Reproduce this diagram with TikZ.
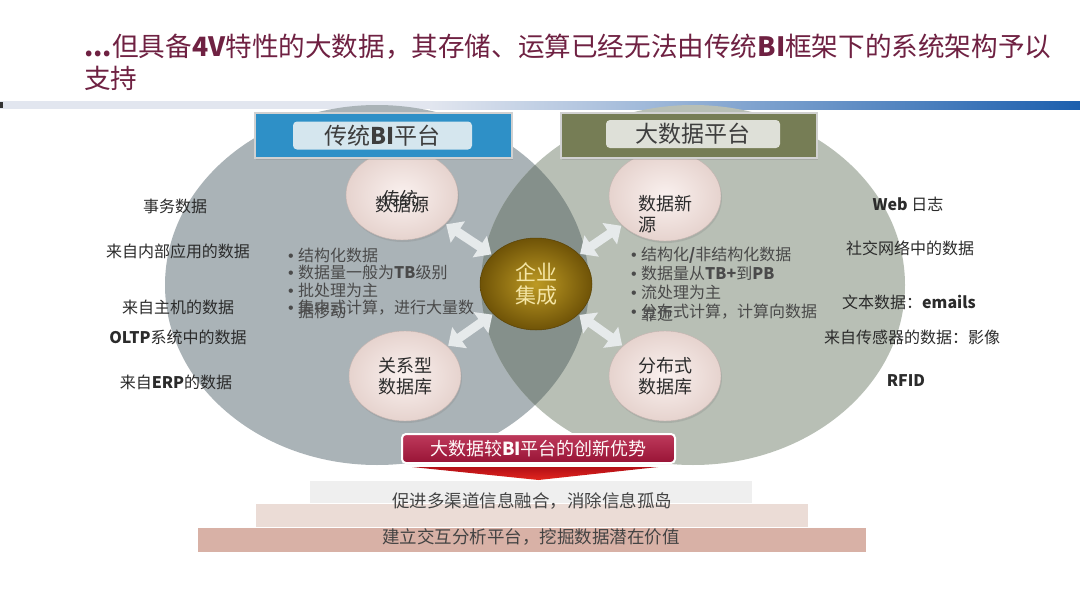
\documentclass[tikz,border=0pt]{standalone}
\usepackage{fontspec}
\setmainfont{Noto Sans CJK SC}
\newfontfamily\latinf{Liberation Sans}
\usetikzlibrary{shapes.geometric,arrows.meta,shadows}
\definecolor{titlec}{HTML}{6F2142}
\definecolor{barlight}{HTML}{E2E6EF}
\definecolor{barblue}{HTML}{1C5FAE}
\definecolor{leftc}{HTML}{AAB3B7}
\definecolor{rightc}{HTML}{B8BFB5}
\definecolor{lensc}{HTML}{85908B}
\definecolor{pinkin}{HTML}{FAF1EF}
\definecolor{pinkout}{HTML}{E6D3CE}
\definecolor{goldin}{HTML}{BD9A24}
\definecolor{goldout}{HTML}{6F5307}
\definecolor{goldtext}{HTML}{F5E6A6}
\definecolor{arrowc}{HTML}{E6EAEB}
\definecolor{blueout}{HTML}{2E90C7}
\definecolor{bluein}{HTML}{D5E6EE}
\definecolor{oliveout}{HTML}{767D55}
\definecolor{olivein}{HTML}{DEE0D8}
\definecolor{hdrtext}{HTML}{3E3E3E}
\definecolor{crimson}{HTML}{B3173F}
\definecolor{chevtop}{HTML}{B30E16}
\definecolor{chevbot}{HTML}{E2271F}
\definecolor{bar1c}{HTML}{EFEFEF}
\definecolor{bar2c}{HTML}{EBDCD6}
\definecolor{bar3c}{HTML}{D8B1A6}
\definecolor{bodytext}{HTML}{4A4A4A}
\definecolor{labtext}{HTML}{2B2B2B}
\newcommand{\bu}{\makebox[10pt][l]{\latinf •}}
\begin{document}
\begin{tikzpicture}[x=1pt,y=-1pt,
  titletext/.style={anchor=west, inner sep=0pt, text=titlec, font=\fontsize{26.6}{30}\selectfont},
  smallc/.style={ellipse, minimum width=112pt, minimum height=90pt, inner sep=0pt,
    shading=radial, inner color=pinkin, outer color=pinkout, draw=pinkout!85!black, line width=0.4pt,
    drop shadow={opacity=0.25, shadow xshift=1pt, shadow yshift=-2pt},
    font=\fontsize{18}{21}\selectfont, text=labtext, align=center},
  ctext/.style={inner sep=0pt, font=\fontsize{18}{21}\selectfont, text=labtext},
  centerc/.style={ellipse, minimum width=112pt, minimum height=92pt, inner sep=0pt,
    shading=radial, inner color=goldin, outer color=goldout, draw=goldout!80!black, line width=0.5pt,
    text=goldtext, font=\fontsize{21}{23.5}\selectfont, align=center},
  dblarrow/.style={draw=arrowc, line width=9pt,
    {Triangle[width=25pt,length=14pt]}-{Triangle[width=25pt,length=14pt]},
    shorten >=1pt, shorten <=1pt},
  hdrout/.style={rectangle, minimum height=45pt, inner sep=0pt, draw=black!18, line width=1.5pt,
    drop shadow={opacity=0.3, shadow xshift=1pt, shadow yshift=-1.5pt}},
  hdrin/.style={rectangle, rounded corners=4pt, minimum height=28pt, inner sep=0pt,
    text=hdrtext, font=\fontsize{23}{26}\selectfont},
  lab/.style={inner sep=0pt, text=labtext, font=\fontsize{16}{18}\selectfont},
  bul/.style={anchor=west, inner sep=0pt, text=bodytext, font=\fontsize{16}{18}\selectfont},
  banner/.style={rectangle, rounded corners=4pt, minimum width=273pt, minimum height=29pt, inner sep=0pt,
    top color=crimson!85!white, bottom color=crimson!85!black, draw=white, line width=2pt,
    drop shadow={opacity=0.35, shadow xshift=0pt, shadow yshift=-1pt},
    text=white!92!pink, font=\fontsize{18}{20}\selectfont},
  barbox/.style={rectangle, inner sep=0pt, draw=none},
  bartext/.style={inner sep=0pt, text=bodytext!90!black, font=\fontsize{17.5}{20}\selectfont}
]
\useasboundingbox (0,0) rectangle (1080,608);
\fill[white] (0,0) rectangle (1080,608);

% title
\node[titletext] (t1) at (84,47) {\textbf{...}但具备\textbf{4V}特性的大数据，其存储、运算已经无法由传统\textbf{BI}框架下的系统架构予以};
\node[titletext] (t2) at (84,78) {支持};

% top bar
\fill[barlight] (0,101) rectangle (430,109);
\shade[left color=barlight, right color=barblue] (430,101) rectangle (1080,109);
\fill[black!80] (0,102) rectangle (3,108);

% big circles
\fill[leftc] (377,285) ellipse [x radius=212pt, y radius=180pt];
\fill[rightc] (693,285) ellipse [x radius=212pt, y radius=180pt];
\begin{scope}
  \clip (377,285) ellipse [x radius=212pt, y radius=180pt];
  \fill[lensc] (693,285) ellipse [x radius=212pt, y radius=180pt];
\end{scope}

% outer labels left
\node[lab] (l1) at (175,206) {事务数据};
\node[lab] (l2) at (178,251) {来自内部应用的数据};
\node[lab] (l3) at (178,307) {来自主机的数据};
\node[lab] (l4) at (178,337) {\textbf{OLTP}系统中的数据};
\node[lab] (l5) at (176,382) {来自\textbf{ERP}的数据};
% outer labels right
\node[lab] (r1) at (908,204) {\textbf{Web} 日志};
\node[lab] (r2) at (910,248) {社交网络中的数据};
\node[lab] (r3) at (909,302) {文本数据：\textbf{emails}};
\node[lab] (r4) at (912,337) {来自传感器的数据：影像};
\node[lab] (r5) at (906,381) {\textbf{RFID}};

% small circles
\node[smallc] (s1) at (402,195) {};
\node[smallc] (s3) at (665,196) {};
\node[smallc] (s2) at (405,376) {关系型\\数据库};
\node[smallc] (s4) at (665,376) {分布式\\数据库};
\node[ctext] (s1a) at (402,205) {数据源};
\node[ctext] (s1b) at (400,199) {传统};
\node[ctext, align=left] (s3a) at (665,214) {数据新\\源};

% centre
\node[centerc] (ci) at (536,284) {企业\\集成};

% arrows
\draw[dblarrow] (ci) -- (s1);
\draw[dblarrow] (ci) -- (s2);
\draw[dblarrow] (ci) -- (s3);
\draw[dblarrow] (ci) -- (s4);

% bullet lists
\node[bul] (bl1) at (288,255) {\bu 结构化数据};
\node[bul] (bl2) at (288,272.5) {\bu 数据量一般为\textbf{TB}级别};
\node[bul] (bl3) at (288,290) {\bu 批处理为主};
\node[bul] (bl4) at (288,308) {\bu 集中式计算，进行大量数};
\node[bul] (bl5) at (298,311) {据移动};
\node[bul] (br1) at (631,255) {\bu 结构化\textbf{/}非结构化数据};
\node[bul] (br2) at (631,273) {\bu 数据量从\textbf{TB+}到\textbf{PB}};
\node[bul] (br3) at (631,292) {\bu 流处理为主};
\node[bul] (br4) at (631,312) {\bu 分布式计算，计算向数据};
\node[bul] (br5) at (641,314) {靠近};

% headers
\node[hdrout, fill=blueout, minimum width=257pt] (hL) at (383.5,135.5) {};
\node[hdrin, fill=bluein, minimum width=179pt] (hLi) at (382.5,135.5) {传统\textbf{BI}平台};
\node[hdrout, fill=oliveout, minimum width=256pt] (hR) at (689,135.5) {};
\node[hdrin, fill=olivein, minimum width=174pt] (hRi) at (693,134) {大数据平台};

% bottom pyramid
\node[barbox, fill=bar1c, minimum width=442pt, minimum height=22pt] (b1) at (531,492) {};
\node[barbox, fill=bar2c, minimum width=552pt, minimum height=23pt] (b2) at (532,515.5) {};
\node[barbox, fill=bar3c, minimum width=668pt, minimum height=24pt] (b3) at (532,540) {};
\node[bartext] (bt1) at (532,501) {促进多渠道信息融合，消除信息孤岛};
\node[bartext] (bt2) at (531,537) {建立交互分析平台，挖掘数据潜在价值};

% banner and chevron
\node[banner] (bn) at (538.5,448.5) {大数据较\textbf{BI}平台的创新优势};
\shade[top color=chevtop, bottom color=chevbot]
  ([xshift=11pt,yshift=-3pt]bn.south west) -- ([xshift=-18pt,yshift=-3pt]bn.south east)
  -- ([yshift=-16pt]bn.south) -- cycle;
\end{tikzpicture}
\end{document}
